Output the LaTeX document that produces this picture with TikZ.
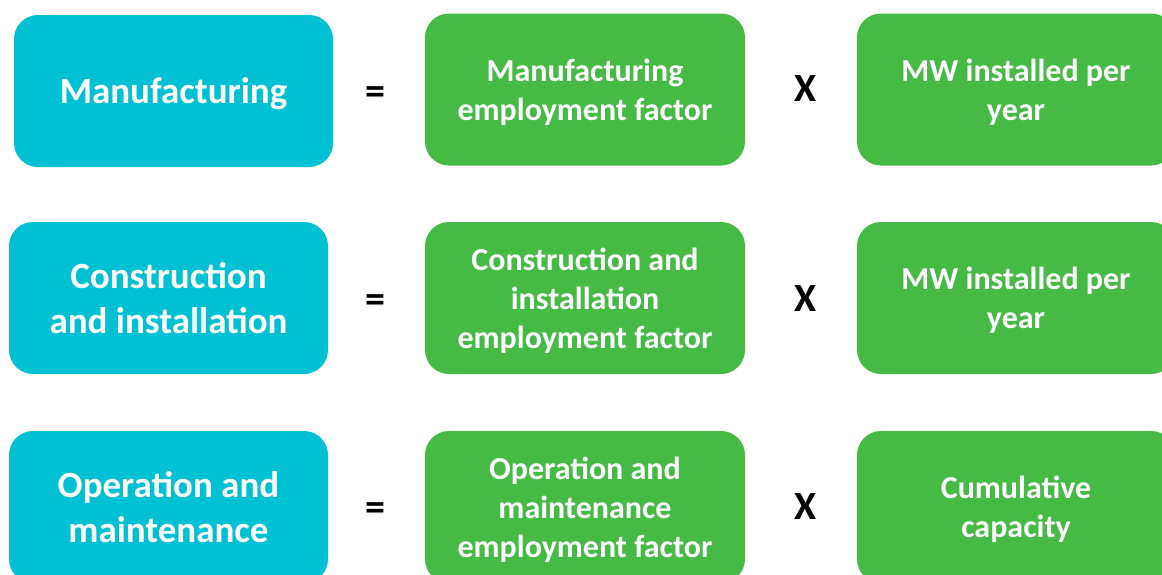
\documentclass[tikz,border=0pt]{standalone}
\usepackage{fontspec}
\setmainfont{Carlito}
\definecolor{tealbox}{HTML}{00C1D3}
\definecolor{greenbox}{HTML}{45BA45}
\tikzset{
  sectorbox/.style={fill=tealbox, rounded corners=24pt, minimum width=319pt, minimum height=152pt,
    inner sep=0pt, text depth=0pt, align=center, text=white, font=\bfseries\fontsize{37}{45}\selectfont},
  factorbox/.style={fill=greenbox, rounded corners=24pt, minimum width=320pt, minimum height=152pt,
    inner sep=0pt, text depth=0pt, align=center, text=white, font=\bfseries\fontsize{32}{39}\selectfont},
  operator/.style={inner sep=0pt, font=\bfseries\fontsize{40}{44}\selectfont}
}
\begin{document}
\begin{tikzpicture}[x=1pt,y=-1pt]
\useasboundingbox (0,0) rectangle (1162,574);
\clip (0,0) rectangle (1162,574);
\fill[white] (0,0) rectangle (1162,574);
% row 1: manufacturing
\node[sectorbox] (s1) at (173.5,91) {Manufacturing};
\node[operator] (eq1) at (375,96) {=};
\node[factorbox] (f1) at (585,89.5) {Manufacturing\\employment factor};
\node[operator] (x1) at (806,88.5) {X};
\node[factorbox, minimum width=318pt] (c1) at (1016,89.5) {MW installed per\\year};
% row 2: construction and installation
\node[sectorbox] (s2) at (168.5,298) {Construction\\and installation};
\node[operator] (eq2) at (375,303.5) {=};
\node[factorbox] (f2) at (585,298) {Construction and\\installation\\employment factor};
\node[operator] (x2) at (806,298.5) {X};
\node[factorbox, minimum width=318pt] (c2) at (1016,298) {MW installed per\\year};
% row 3: operation and maintenance
\node[sectorbox] (s3) at (168.5,507) {Operation and\\maintenance};
\node[operator] (eq3) at (375,512) {=};
\node[factorbox] (f3) at (585,507) {Operation and\\maintenance\\employment factor};
\node[operator] (x3) at (806,506.5) {X};
\node[factorbox, minimum width=318pt] (c3) at (1016,507) {Cumulative\\capacity};
\end{tikzpicture}
\end{document}
